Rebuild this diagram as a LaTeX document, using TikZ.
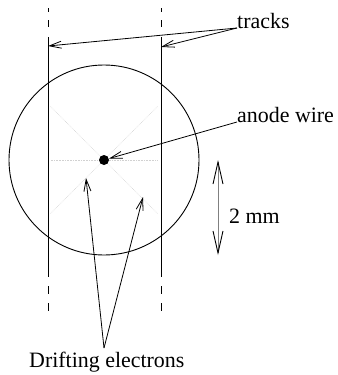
\documentclass[tikz,border=0pt]{standalone}
\usepackage{fontspec}
\setmainfont{Liberation Serif}
\usetikzlibrary{arrows.meta}
\tikzset{
  lbl/.style={inner sep=0pt, anchor=base west, font=\fontsize{22}{26}\selectfont},
  ptr/.style={-{Straight Barb[length=12bp,width=7bp]}, line width=0.8bp},
  ray/.style={densely dotted, black!18, line width=0.6bp},
  trk/.style={line width=0.9bp},
}

\begin{document}
\begin{tikzpicture}[x=1bp,y=-1bp]
  \useasboundingbox (0,0) rectangle (338,375);
  \coordinate (ctr) at (104,160);
  \draw[line width=0.9bp] (ctr) circle (95bp);
  \foreach \p in {(50,160),(158,160),(50,106),(158,106),(50,214),(158,214)}
    \draw[ray] (ctr) -- \p;
  \node[circle, fill=black, inner sep=0pt, minimum size=10bp] (wire) at (ctr) {};
  \foreach \x in {48,161} {
    \draw[trk] (\x,37) -- (\x,277);
    \draw[trk] (\x,8) -- (\x,12) (\x,20) -- (\x,27) (\x,286) -- (\x,294) (\x,303) -- (\x,311);
  }
  \node[lbl] (tracks) at (237,28) {tracks};
  \node[lbl] (anode) at (237,122) {anode wire};
  \node[lbl] (mm) at (229,223) {2 mm};
  \node[lbl] (drift) at (29,367) {Drifting electrons};
  \coordinate (ltrk) at (48,46);
  \coordinate (rtrk) at (161,47);
  \coordinate (apex) at (104,348);
  \coordinate (elec1) at (86,178);
  \coordinate (elec2) at (143,197);
  \coordinate (mmtop) at (218,160);
  \coordinate (mmbot) at (218,255);
  \draw[ptr] (tracks.base west) -- (ltrk);
  \draw[ptr] (tracks.base west) -- (rtrk);
  \draw[ptr] (anode.base west) -- (wire);
  \draw[ptr] (apex) -- (elec1);
  \draw[ptr] (apex) -- (elec2);
  \draw[gray, line width=0.9bp,
    {Straight Barb[length=22bp,width=10bp,color=black]}-{Straight Barb[length=22bp,width=10bp,color=black]}]
    (mmtop) -- (mmbot);
\end{tikzpicture}
\end{document}
